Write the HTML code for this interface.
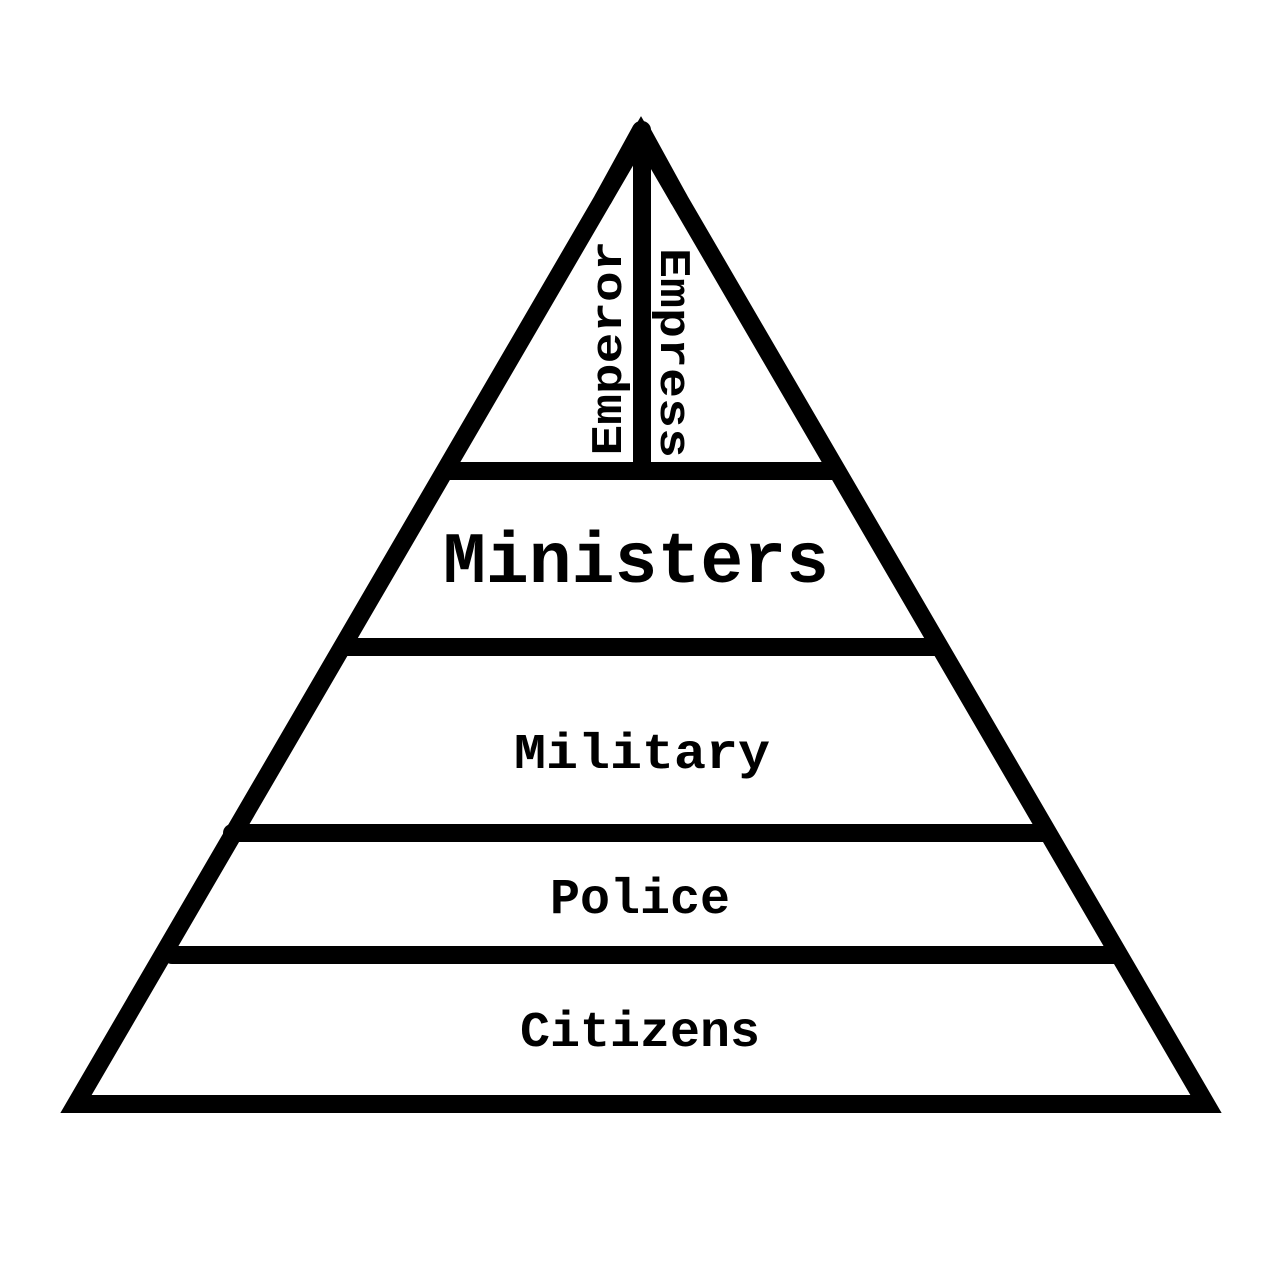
<!DOCTYPE html>
<html><head><style>html,body{margin:0;padding:0;background:#fff}</style></head>
<body>
<svg width="1280" height="1280" viewBox="0 0 1280 1280" xmlns="http://www.w3.org/2000/svg">
<rect width="1280" height="1280" fill="#fff"/>
<g stroke="#000" stroke-width="18" fill="none" stroke-linejoin="miter">
<polygon points="641,134 76,1104 1206,1104"/>
</g>
<polyline points="602.6,200 641,130 679.4,200" fill="none" stroke="#000" stroke-width="18" stroke-linejoin="round" stroke-linecap="butt"/>
<g stroke="#000" stroke-width="18" stroke-linecap="round">
<line x1="642" y1="130" x2="642" y2="466"/>
<line x1="450" y1="471" x2="835" y2="471"/>
<line x1="345" y1="647" x2="935" y2="647"/>
<line x1="232" y1="833" x2="1045" y2="833"/>
<line x1="172" y1="955" x2="1115" y2="955"/>
</g>
<g font-family="Liberation Mono, monospace" font-weight="bold" fill="#000" text-anchor="middle">
<text x="636" y="582" font-size="72" textLength="386" lengthAdjust="spacingAndGlyphs">Ministers</text>
<text x="642" y="768" font-size="50" textLength="256" lengthAdjust="spacingAndGlyphs">Military</text>
<text x="640" y="913" font-size="50" textLength="180" lengthAdjust="spacingAndGlyphs">Police</text>
<text x="640" y="1046" font-size="50" textLength="240" lengthAdjust="spacingAndGlyphs">Citizens</text>
<text transform="translate(621,348) rotate(-90)" font-size="44" textLength="215" lengthAdjust="spacingAndGlyphs">Emperor</text>
<text transform="translate(661,353) rotate(90)" font-size="44" textLength="210" lengthAdjust="spacingAndGlyphs">Empress</text>
</g>
</svg>
</body></html>
